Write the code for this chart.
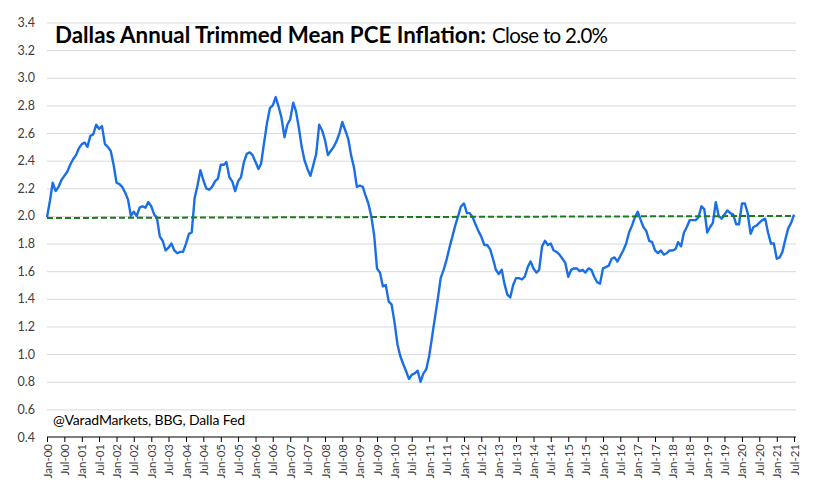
<!DOCTYPE html>
<html>
<head>
<meta charset="utf-8">
<script src="https://cdn.jsdelivr.net/npm/d3@7"></script>
<style>
  body { margin: 0; background: #fff; }
  text { font-family: Lato, 'Open Sans', sans-serif; }
</style>
</head>
<body>
<div id="chart"></div>
<script>
// monthly readings, Jan-2000 .. Jul-2021
const firstMonth = new Date(2000, 0, 1)

const pceValues = [
  1.99, 2.11, 2.24, 2.18, 2.21, 2.26, 2.29, 2.32, 2.37, 2.41, 2.44, 2.49,
  2.52, 2.53, 2.50, 2.58, 2.59, 2.66, 2.63, 2.65, 2.52, 2.50, 2.47, 2.37,
  2.24, 2.23, 2.21, 2.17, 2.12, 2.00, 2.03, 2.00, 2.06, 2.07, 2.06, 2.10,
  2.07, 2.01, 1.99, 1.85, 1.82, 1.75, 1.77, 1.80, 1.75, 1.73, 1.74, 1.74,
  1.80, 1.87, 1.88, 2.13, 2.22, 2.33, 2.26, 2.20, 2.19, 2.21, 2.25, 2.27,
  2.37, 2.37, 2.39, 2.28, 2.25, 2.18, 2.25, 2.28, 2.39, 2.45, 2.46, 2.44,
  2.39, 2.34, 2.38, 2.53, 2.67, 2.78, 2.80, 2.86, 2.79, 2.71, 2.57, 2.66,
  2.70, 2.82, 2.76, 2.64, 2.50, 2.40, 2.34, 2.29, 2.37, 2.45, 2.66, 2.62,
  2.55, 2.44, 2.47, 2.50, 2.54, 2.60, 2.68, 2.62, 2.56, 2.44, 2.35, 2.21,
  2.22, 2.21, 2.15, 2.09, 2.00, 1.86, 1.62, 1.59, 1.49, 1.50, 1.38, 1.36,
  1.23, 1.07, 0.99, 0.93, 0.88, 0.82, 0.85, 0.86, 0.88, 0.80, 0.86, 0.89,
  0.99, 1.13, 1.26, 1.40, 1.55, 1.61, 1.68, 1.77, 1.85, 1.93, 2.00, 2.07,
  2.09, 2.02, 2.02, 1.99, 1.94, 1.89, 1.85, 1.79, 1.79, 1.76, 1.69, 1.61,
  1.58, 1.61, 1.51, 1.43, 1.41, 1.50, 1.55, 1.55, 1.54, 1.56, 1.63, 1.67,
  1.62, 1.59, 1.61, 1.78, 1.82, 1.79, 1.80, 1.75, 1.74, 1.72, 1.69, 1.66,
  1.56, 1.61, 1.62, 1.62, 1.60, 1.61, 1.59, 1.62, 1.61, 1.56, 1.52, 1.51,
  1.62, 1.63, 1.64, 1.69, 1.70, 1.67, 1.71, 1.75, 1.80, 1.88, 1.93, 1.99,
  2.03, 1.97, 1.92, 1.89, 1.82, 1.81, 1.75, 1.73, 1.75, 1.72, 1.73, 1.75,
  1.75, 1.76, 1.81, 1.78, 1.88, 1.92, 1.97, 1.97, 1.97, 1.99, 2.07, 2.05,
  1.88, 1.92, 1.95, 2.10, 2.00, 1.98, 2.01, 2.04, 2.02, 2.01, 1.94, 1.94,
  2.09, 2.09, 2.02, 1.87, 1.92, 1.93, 1.95, 1.97, 1.98, 1.88, 1.80, 1.80,
  1.69, 1.70, 1.74, 1.83, 1.91, 1.95, 2.01
]

// dashed reference line, start and end value
const targetValues = [1.985, 2.0]

const yTickValues = [0.4, 0.6, 0.8, 1.0, 1.2, 1.4, 1.6, 1.8, 2.0, 2.2, 2.4, 2.6, 2.8, 3.0, 3.2, 3.4]

const titleBold = 'Dallas Annual Trimmed Mean PCE Inflation:'
const titleRest = 'Close to 2.0%'
const sourceNote = '@VaradMarkets, BBG, Dalla Fed'

const margin = {
  top: 22.5,
  right: 28,
  bottom: 60,
  left: 47
}

const width = 822 - margin.left - margin.right
const height = 497 - margin.top - margin.bottom

const svg = d3
  .select('#chart')
  .append('svg')
  .attr('width', 822)
  .attr('height', 497)
  .append('g')
  .attr('transform', 'translate(' + margin.left + ',' + margin.top + ')')

const datapoints = pceValues.map((v, i) => {
  return { date: d3.timeMonth.offset(firstMonth, i), value: v }
})
const lastMonth = datapoints[datapoints.length - 1].date

const xPositionScale = d3
  .scaleTime()
  .domain([firstMonth, lastMonth])
  .range([0, width])

const yPositionScale = d3
  .scaleLinear()
  .domain([0.4, 3.4])
  .range([height, 0])

// gridlines
const yAxis = d3
  .axisLeft(yPositionScale)
  .tickValues(yTickValues)
  .tickSize(-(width + 2))
  .tickPadding(12)
  .tickFormat(d3.format('.1f'))

svg
  .append('g')
  .attr('class', 'axis y-axis')
  .call(yAxis)

svg.select('.y-axis .domain').remove()
svg
  .selectAll('.y-axis line')
  .attr('stroke', '#d9d9d9')
  .attr('stroke-width', 1)
svg
  .selectAll('.y-axis text')
  .attr('fill', '#404040')
  .style('font-size', '12.5px')
svg.select('.y-axis .tick line').remove()

// x axis, every six months
const xAxis = d3
  .axisBottom(xPositionScale)
  .ticks(d3.timeMonth.every(6))
  .tickSize(5)
  .tickFormat(d3.timeFormat('%b-%y'))

svg
  .append('g')
  .attr('class', 'axis x-axis')
  .attr('transform', 'translate(0,' + height + ')')
  .call(xAxis)

svg
  .select('.x-axis .domain')
  .attr('stroke', '#000')
  .attr('stroke-width', 1.2)
  .attr('d', 'M0,0H' + (width + 2))
svg.selectAll('.x-axis line').attr('stroke', '#000')
svg
  .selectAll('.x-axis text')
  .attr('fill', '#404040')
  .style('font-size', '11.5px')
  .attr('text-anchor', 'end')
  .attr('transform', 'rotate(-90)')
  .attr('x', -7)
  .attr('y', 0)
  .attr('dy', '0.35em')

// blue series
const line = d3
  .line()
  .x(d => xPositionScale(d.date))
  .y(d => yPositionScale(d.value))

svg
  .append('path')
  .datum(datapoints)
  .attr('d', line)
  .attr('fill', 'none')
  .attr('stroke', '#1a6fe6')
  .attr('stroke-width', 2.4)
  .attr('stroke-linejoin', 'round')

// green dashed 2% line
const targetPoints = [
  { date: firstMonth, value: targetValues[0] },
  { date: lastMonth, value: targetValues[1] }
]

svg
  .append('path')
  .datum(targetPoints)
  .attr('d', line)
  .attr('fill', 'none')
  .attr('stroke', '#1f7a1f')
  .attr('stroke-width', 2)
  .attr('stroke-dasharray', '6,3')

// title
const title = svg
  .append('text')
  .attr('x', 8)
  .attr('y', 20)
  .attr('fill', '#000')

title
  .append('tspan')
  .style('font-weight', 'bold')
  .style('font-size', '22.3px')
  .attr('textLength', 431)
  .text(titleBold)

title
  .append('tspan')
  .attr('dx', 6)
  .style('font-size', '20.5px')
  .attr('textLength', 116)
  .text(titleRest)

svg
  .append('text')
  .attr('x', 6)
  .attr('y', 402)
  .style('font-size', '14px')
  .attr('textLength', 192)
  .attr('fill', '#000')
  .text(sourceNote)
</script>
</body>
</html>
